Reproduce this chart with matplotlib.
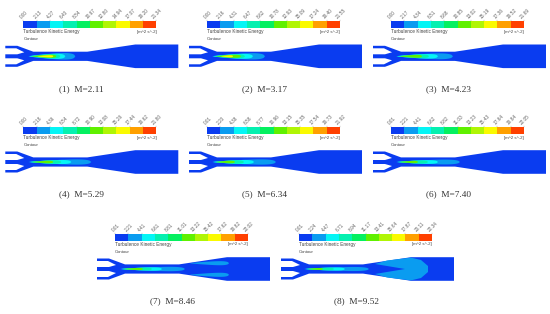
import numpy as np
import matplotlib
matplotlib.use('Agg')
import matplotlib.pyplot as plt
from matplotlib.patches import Polygon, Rectangle

plt.rcParams['font.family'] = ['Liberation Sans', 'DejaVu Sans']

captions = ['(1)  M=2.11', '(2)  M=3.17', '(3)  M=4.23', '(4)  M=5.29',
            '(5)  M=6.34', '(6)  M=7.40', '(7)  M=8.46', '(8)  M=9.52']

ticks1 = ['0.00', '2.13', '4.27', '6.40', '8.54', '10.67', '12.80', '14.94', '17.07', '19.20', '21.34']
ticks2 = ['0.00', '2.16', '4.31', '6.47', '8.62', '10.78', '12.93', '15.09', '17.24', '19.40', '21.55']
ticks3 = ['0.00', '2.17', '4.34', '6.51', '8.68', '10.85', '13.02', '15.19', '17.36', '19.52', '21.69']
ticks4 = ['0.00', '2.18', '4.36', '6.54', '8.72', '10.90', '13.08', '15.26', '17.44', '19.62', '21.80']
ticks5 = ['0.01', '2.20', '4.38', '6.58', '8.77', '10.96', '13.15', '15.35', '17.54', '19.73', '21.92']
ticks6 = ['0.01', '2.21', '4.41', '6.62', '8.82', '11.03', '13.23', '15.43', '17.64', '19.84', '22.05']
ticks7 = ['0.01', '2.21', '4.41', '6.61', '8.81', '11.01', '13.22', '15.42', '17.62', '19.82', '22.02']
ticks8 = ['0.01', '2.24', '4.47', '6.71', '8.94', '11.17', '13.41', '15.64', '17.87', '20.11', '22.34']
all_ticks = [ticks1, ticks2, ticks3, ticks4, ticks5, ticks6, ticks7, ticks8]

levels = ['#0a3cf0', '#0a9cf0', '#05f5f5', '#05f0b0', '#05f060',
          '#60f000', '#b0f505', '#fafa00', '#ffa000', '#ff4000']

# panel origin = top left of the colour bar, in image pixels
panel_x = [23.3, 207, 391, 23.3, 207, 391, 115, 299]
panel_y = [21.3, 21.3, 21.3, 127, 127, 127, 234, 234]

# how far each contour level of the jet reaches along the channel (px from bar left)
reach_light = [52, 58, 62, 68, 69, 69, 70, 70]
reach_cyan = [42, 46, 47, 48, 47, 47, 47, 46]
reach_aqua = [37, 38, 38, 38, 37, 37, 37, 35]
reach_green = [33, 34, 31, 30, 28, 27, 28, 24]
reach_yellow = [30, 26, 0, 0, 0, 0, 0, 0]
thick_light = [4.5, 4.3, 4.0, 3.6, 3.6, 3.3, 3.0, 2.8]

fig = plt.figure(figsize=(5.5, 3.14), dpi=100)
ax = fig.add_axes([0, 0, 1, 1])
ax.set_xlim(0, 550)
ax.set_ylim(314, 0)
ax.axis('off')


def jet(ox, cy, x0, x1, hh, color):
    t = np.linspace(0, 1, 40)
    h = hh * t ** 0.75 * np.sqrt(1 - t ** 6)
    xs = ox + x0 + (x1 - x0) * t
    pts = np.r_[np.c_[xs, cy - h], np.c_[xs[::-1], cy + h[::-1]]]
    ax.add_patch(Polygon(pts, fc=color, ec='none', zorder=3))


def nozzle(ox, cy):
    body = [(-18, -10.5), (-6, -10.5), (10, -4.6), (64, -4.6), (112, -11.8), (155, -11.8),
            (155, 11.8), (112, 11.8), (64, 4.6), (10, 4.6), (-6, 10.5), (-18, 10.5), (-18, 8),
            (-7, 8), (1, 4), (-6, 2), (-18, 2), (-18, -2), (-6, -2), (1, -4), (-7, -8), (-18, -8)]
    ax.add_patch(Polygon([(ox + a, cy + b) for a, b in body], fc=levels[0], ec='none', zorder=2))


for i in range(8):
    ox, oy = panel_x[i], panel_y[i]
    cy = oy + 35
    for k in range(10):
        ax.add_patch(Rectangle((ox + k * 13.3, oy), 13.3, 6.7, fc=levels[k], ec='none', zorder=2))
    for k, lab in enumerate(all_ticks[i]):
        ax.plot([ox + k * 13.3] * 2, [oy - 1, oy], color='#999999', lw=0.3, zorder=1)
        ax.text(ox + k * 13.3 + 1, oy - 1.5, lab, rotation=45, fontsize=3.4, color='#666666',
                ha='center', va='bottom')
    ax.text(ox, oy + 10.5, 'Turbulence Kinetic Energy', fontsize=3.4, color='#444444', va='center')
    ax.text(ox, oy + 18, 'Contour', fontsize=3.1, color='#444444', va='center')
    ax.text(ox + 133, oy + 10.5, '[m^2 s^-2]', fontsize=3.2, color='#444444', va='center', ha='right')
    ax.text(ox + 58, oy + 67.5, captions[i], fontsize=6.7, family='Liberation Serif',
            color='#333333', ha='center', va='center')

    nozzle(ox, cy)
    h = thick_light[i]
    if i == 6:
        for side in (-1, 1):
            jet(ox, cy + side * 5.8, 75, 114, 2.8, levels[1])
    if i == 7:
        blob = [(76, -5), (88, -8.5), (112, -11.4), (122, -9), (129, -3), (129, 3), (122, 9),
                (112, 11.4), (88, 8.5), (76, 5), (106, 0)]
        ax.add_patch(Polygon([(ox + a, cy + b) for a, b in blob], fc=levels[1], ec='none', zorder=3))
    jet(ox, cy, 5, reach_light[i], h, levels[1])
    jet(ox, cy, 6, reach_cyan[i], h * 0.78, levels[2])
    jet(ox, cy, 7, reach_aqua[i], h * 0.62, levels[3])
    jet(ox, cy, 9, reach_green[i], h * 0.48, levels[5])
    if reach_yellow[i]:
        jet(ox, cy, 14, reach_yellow[i], h * 0.33, levels[7])

fig.savefig('out.png', dpi=100)
